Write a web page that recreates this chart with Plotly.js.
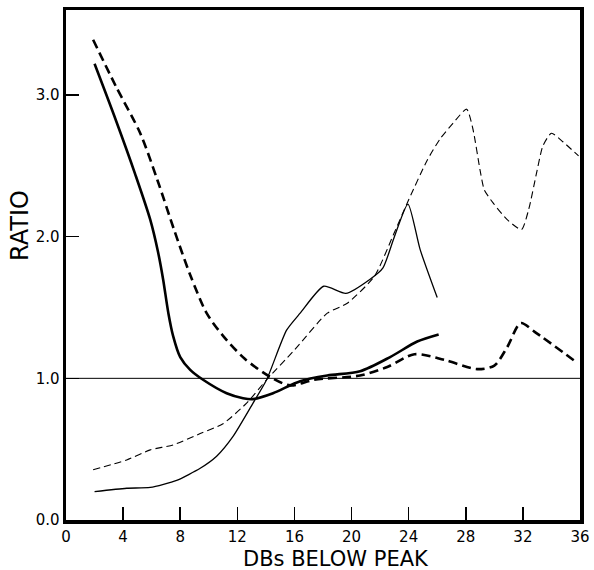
<!DOCTYPE html>
<html>
<head>
<meta charset="utf-8">
<script src="https://cdn.plot.ly/plotly-3.0.1.min.js"></script>
<style>html,body{margin:0;padding:0;background:#fff;}#chart{width:594px;height:570px;}</style>
</head>
<body>
<div id="chart"></div>
<script>
// Thick solid curve
const thickSolidX = [2, 3.5, 4.85, 5.9, 6.45, 6.8, 7.17, 7.5, 8.0, 8.7, 9.6, 11.25, 12.4, 13.1, 14.5, 16.4, 18.3, 20.6, 22.7, 24.6, 26.1];
const thickSolidY = [3.22, 2.82, 2.44, 2.12, 1.89, 1.70, 1.46, 1.30, 1.15, 1.06, 0.99, 0.895, 0.86, 0.853, 0.895, 0.98, 1.02, 1.05, 1.15, 1.26, 1.31];
// Thick dashed curve
const thickDashX = [1.9, 3.5, 5.2, 6.4, 7.6, 8.7, 9.85, 11.0, 12.5, 14.3, 15.7, 17.4, 20.6, 22.5, 24.4, 26.5, 28.8, 30, 30.9, 31.85, 32.8, 35.8];
const thickDashY = [3.39, 3.06, 2.73, 2.40, 2.04, 1.73, 1.46, 1.30, 1.14, 1.01, 0.95, 0.99, 1.02, 1.08, 1.17, 1.13, 1.065, 1.09, 1.22, 1.39, 1.33, 1.11];
// Thin dashed curve
const thinDashX = [1.9, 4.25, 5.9, 7.5, 9.4, 11, 12.65, 14.05, 16, 18.3, 19.7, 21.6, 23, 24, 25.3, 26.2, 27.1, 28.06, 28.5, 29.0, 29.3, 29.9, 30.9, 31.9, 32.4, 33.0, 33.4, 34.0, 34.8, 35.9];
const thinDashY = [0.355, 0.424, 0.495, 0.53, 0.61, 0.68, 0.825, 0.99, 1.20, 1.46, 1.53, 1.72, 2.03, 2.26, 2.54, 2.69, 2.80, 2.90, 2.76, 2.47, 2.33, 2.24, 2.12, 2.05, 2.19, 2.47, 2.64, 2.73, 2.67, 2.57];
// Thin solid curve
const thinSolidX = [2, 4.25, 5.9, 7.75, 9.4, 10.55, 11.7, 13.1, 14.05, 15.45, 16.4, 18.05, 19.6, 21.3, 22.2, 23, 23.95, 24.8, 26];
const thinSolidY = [0.20, 0.224, 0.23, 0.28, 0.365, 0.45, 0.59, 0.825, 0.99, 1.34, 1.46, 1.65, 1.60, 1.70, 1.78, 2.0, 2.23, 1.91, 1.57];
// Reference level
const refLevel = 1.0;
// Axis ticks and titles
const xTicks = [0, 4, 8, 12, 16, 20, 24, 28, 32, 36];
const xTickLabels = ["0", "4", "8", "12", "16", "20", "24", "28", "32", "36"];
const yTicks = [0, 1, 2, 3];
const yTickLabels = ["0.0", "1.0", "2.0", "3.0"];
const xTitle = "DBs BELOW PEAK";
const yTitle = "RATIO";

const F = "DejaVu Sans, sans-serif";
const traces = [
  {x: thickSolidX, y: thickSolidY, mode: "lines", line: {color: "#000", width: 2.6, shape: "spline", smoothing: 0.8}},
  {x: thickDashX, y: thickDashY, mode: "lines", line: {color: "#000", width: 2.6, dash: "9px,5px", shape: "spline", smoothing: 0.8}},
  {x: thinDashX, y: thinDashY, mode: "lines", line: {color: "#000", width: 1.1, dash: "7px,4px", shape: "spline", smoothing: 0.6}},
  {x: thinSolidX, y: thinSolidY, mode: "lines", line: {color: "#000", width: 1.3, shape: "spline", smoothing: 0.6}}
];
const layout = {
  width: 594, height: 570,
  margin: {l: 66, r: 14, t: 10, b: 50},
  paper_bgcolor: "#fff", plot_bgcolor: "#fff",
  showlegend: false,
  font: {family: F, color: "#000", size: 15},
  xaxis: {
    range: [0, 36], tickvals: xTicks, ticktext: xTickLabels,
    ticks: "inside", ticklen: 13, tickwidth: 1.5, tickcolor: "#000",
    showgrid: false, zeroline: false,
    showline: true, mirror: true, linewidth: 3.5, linecolor: "#000",
    tickfont: {family: F, size: 15}
  },
  yaxis: {
    range: [0, 3.6], tickvals: yTicks, ticktext: yTickLabels,
    ticks: "inside", ticklen: 13, tickwidth: 1.5, tickcolor: "#000",
    showgrid: false, zeroline: false,
    showline: true, mirror: true, linewidth: 3.5, linecolor: "#000",
    tickfont: {family: F, size: 15}
  },
  shapes: [
    {type: "line", xref: "paper", x0: 0, x1: 1, yref: "y", y0: refLevel, y1: refLevel, line: {color: "#000", width: 1}}
  ],
  annotations: [
    {text: xTitle, xref: "paper", yref: "paper", x: 0.525, y: -0.076, xanchor: "center", yanchor: "middle", showarrow: false, font: {family: F, size: 21}},
    {text: yTitle, xref: "paper", yref: "paper", x: -0.09, y: 0.578, xanchor: "center", yanchor: "middle", textangle: -90, showarrow: false, font: {family: F, size: 24}}
  ]
};
Plotly.newPlot("chart", traces, layout, {displayModeBar: false, staticPlot: true});
</script>
</body>
</html>
